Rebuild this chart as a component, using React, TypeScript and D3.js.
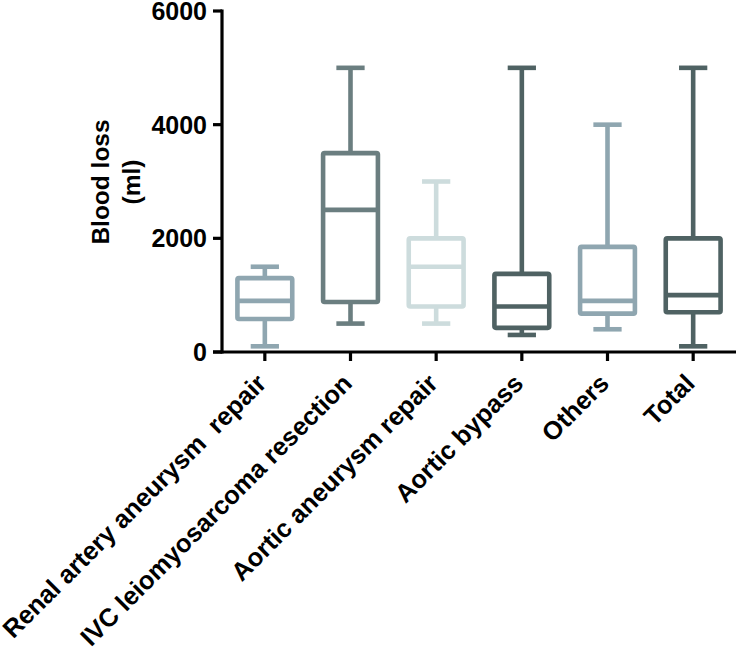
import React from "react";
import * as d3 from "d3";

const categories = [
  "Renal artery aneurysm  repair",
  "IVC leiomyosarcoma resection",
  "Aortic aneurysm repair",
  "Aortic bypass",
  "Others",
  "Total",
];
const mins = [100, 500, 500, 300, 400, 100];
const q1s = [580, 880, 800, 425, 675, 700];
const medians = [900, 2500, 1500, 800, 900, 1000];
const q3s = [1300, 3500, 2000, 1375, 1850, 2000];
const maxs = [1500, 5000, 3000, 5000, 4000, 5000];
const colors = ["#8fa6b0", "#6b7e80", "#cddcdd", "#4f6263", "#8fa6b0", "#4f6263"];
const yTicks = [0, 2000, 4000, 6000];

const W = 737;
const H = 648;
const left = 222;
const right = 736;
const top = 11;
const bottom = 352;

export default function App() {
  const x = d3.scaleBand<string>().domain(categories).range([left, right]);
  const y = d3.scaleLinear().domain([0, 6000]).range([bottom, top]);
  const bw = x.bandwidth();
  const boxHalf = bw * 0.32;
  const capHalf = bw * 0.165;
  const font = "'Liberation Sans', Arial, sans-serif";
  const sw = 4.6;

  return (
    <svg
      width={W}
      height={H}
      style={{ position: "absolute", left: 0, top: 0, background: "#fff" }}
      fontFamily={font}
      fontWeight="bold"
    >
      {categories.map((c, i) => {
        const cx = (x(c) as number) + bw / 2;
        const col = colors[i];
        return (
          <g key={c} stroke={col} strokeWidth={sw} fill="none" strokeLinejoin="round">
            <line x1={cx} x2={cx} y1={y(maxs[i])} y2={y(q3s[i])} />
            <line x1={cx} x2={cx} y1={y(q1s[i])} y2={y(mins[i])} />
            <line x1={cx - capHalf} x2={cx + capHalf} y1={y(maxs[i])} y2={y(maxs[i])} />
            <line x1={cx - capHalf} x2={cx + capHalf} y1={y(mins[i])} y2={y(mins[i])} />
            <rect
              x={cx - boxHalf}
              y={y(q3s[i])}
              width={boxHalf * 2}
              height={y(q1s[i]) - y(q3s[i])}
              rx={1.5}
            />
            <line x1={cx - boxHalf} x2={cx + boxHalf} y1={y(medians[i])} y2={y(medians[i])} />
          </g>
        );
      })}

      {/* Y axis */}
      <line x1={left} x2={left} y1={top - 1.5} y2={bottom + 1.5} stroke="#000" strokeWidth={3.2} />
      {yTicks.map((t) => (
        <g key={t}>
          <line x1={left - 9} x2={left} y1={y(t)} y2={y(t)} stroke="#000" strokeWidth={3.2} />
          <text x={left - 15} y={y(t)} dy="0.36em" textAnchor="end" fontSize={25} fill="#000">
            {t}
          </text>
        </g>
      ))}

      {/* X axis */}
      <line x1={left - 9} x2={right} y1={bottom} y2={bottom} stroke="#000" strokeWidth={3.2} />
      {categories.map((c) => {
        const cx = (x(c) as number) + bw / 2;
        return (
          <g key={c}>
            <line x1={cx} x2={cx} y1={bottom} y2={bottom + 9} stroke="#000" strokeWidth={3.2} />
            <text
              transform={`translate(${cx + 3},${385}) rotate(-45)`}
              textAnchor="end"
              fontSize={25.5}
              fill="#000"
              style={{ whiteSpace: "pre" }}
            >
              {c}
            </text>
          </g>
        );
      })}

      {/* Y title */}
      <text
        transform={`translate(109,182) rotate(-90)`}
        textAnchor="middle"
        fontSize={24.5}
        fill="#000"
      >
        <tspan x={0} dy={0}>Blood loss</tspan>
        <tspan x={0} dy={31}>(ml)</tspan>
      </text>
    </svg>
  );
}
